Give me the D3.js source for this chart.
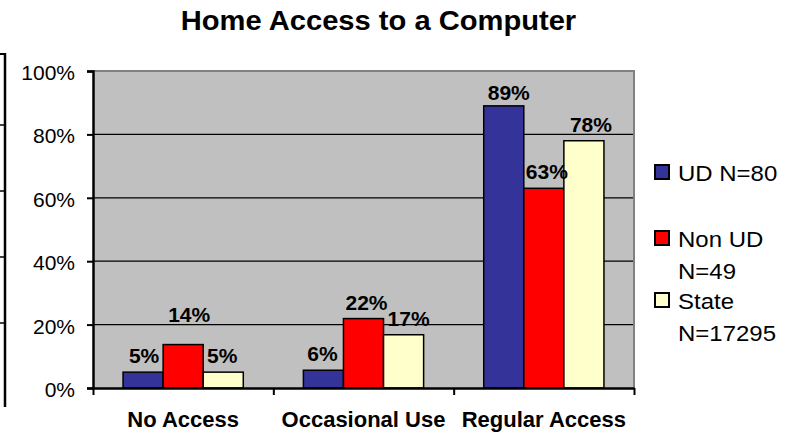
<!DOCTYPE html>
<html>
<head>
<meta charset="utf-8">
<script src="https://cdn.jsdelivr.net/npm/d3@7"></script>
<style>
  html, body { margin: 0; padding: 0; background: #fff; }
  text { font-family: "Liberation Sans", Arial, sans-serif; }
</style>
</head>
<body>
<svg id="here"></svg>
<script>
// chart data
const categories = ["No Access", "Occasional Use", "Regular Access"];
const seriesNames = ["UD N=80", "Non UD N=49", "State N=17295"];
const legendLines = [["UD N=80"], ["Non UD", "N=49"], ["State", "N=17295"]];
const udValues = [5, 5.6, 89];
const nonUdValues = [13.7, 21.9, 63];
const stateValues = [5, 16.8, 78];
const yTicks = [0, 20, 40, 60, 80, 100];
const colors = ["#333399", "#ff0000", "#ffffcc"];

// small nudges for the value labels (like the original export)
const labelDx = [[1, 6, -1], [-1, 3, 5], [5, 3, 7]];
const labelDy = [[0, -14, 0], [0, 0, 0], [3, 0, 0]];

const width = 796, height = 432;
const margin = {top: 71, right: 162, bottom: 45, left: 93};

const svg = d3.select("#here")
  .attr("width", width)
  .attr("height", height);

// stretch text horizontally, the reference is a bit wider than plain Arial
const stretch = (sel, k) => sel.each(function () {
  const w = this.getComputedTextLength();
  d3.select(this).attr("textLength", w * k).attr("lengthAdjust", "spacingAndGlyphs");
});

const x0 = d3.scaleBand()
  .domain(categories)
  .range([margin.left, width - margin.right])
  .paddingInner(1 / 3)
  .paddingOuter(1 / 6);
const x1 = d3.scaleBand()
  .domain(d3.range(seriesNames.length))
  .range([0, x0.bandwidth()]);
const y = d3.scaleLinear()
  .domain([0, 100])
  .range([height - margin.bottom + 1, margin.top]);

const rows = categories.map((c, i) => [udValues[i], nonUdValues[i], stateValues[i]]);

// plot background
svg.append("rect")
  .attr("x", margin.left)
  .attr("y", margin.top)
  .attr("width", width - margin.right - margin.left)
  .attr("height", y(0) - margin.top)
  .attr("fill", "#c0c0c0");

// gridlines
svg.append("g")
  .selectAll("line")
  .data(yTicks.filter(d => d > 0 && d < 100))
  .join("line")
  .attr("x1", margin.left)
  .attr("x2", width - margin.right)
  .attr("y1", d => y(d))
  .attr("y2", d => y(d))
  .attr("stroke", "#000")
  .attr("stroke-width", 1.2);

// top and right border
svg.append("path")
  .attr("d", `M${margin.left},${y(100)}H${width - margin.right}V${y(0)}`)
  .attr("fill", "none")
  .attr("stroke", "#808080")
  .attr("stroke-width", 2);

// bars
const groups = svg.append("g")
  .selectAll("g")
  .data(rows)
  .join("g")
  .attr("transform", (d, i) => `translate(${x0(categories[i])},0)`);

groups.selectAll("rect")
  .data(d => d)
  .join("rect")
  .attr("x", (d, j) => x1(j))
  .attr("y", d => y(d))
  .attr("width", x1.bandwidth())
  .attr("height", d => y(0) - y(d))
  .attr("fill", (d, j) => colors[j])
  .attr("stroke", "#000")
  .attr("stroke-width", 1.5);

// value labels
groups.each(function (row, i) {
  d3.select(this).selectAll("text")
    .data(row)
    .join("text")
    .attr("x", (d, j) => x1(j) + x1.bandwidth() / 2 + labelDx[i][j])
    .attr("y", (d, j) => y(d) - 9 + labelDy[i][j])
    .attr("text-anchor", "middle")
    .attr("font-size", 21)
    .attr("font-weight", "bold")
    .attr("fill", "#000")
    .text(d => Math.round(d) + "%");
});

// y axis
const yAxis = svg.append("g")
  .attr("transform", `translate(${margin.left},0)`)
  .call(d3.axisLeft(y).tickValues(yTicks).tickSize(6).tickFormat(d => d + "%"));
yAxis.select(".domain").attr("stroke-width", 2.5);
yAxis.selectAll(".tick line").attr("stroke-width", 2);
yAxis.selectAll(".tick text")
  .attr("x", -18)
  .attr("dy", "0.4em")
  .attr("font-size", 21)
  .attr("font-family", "Liberation Sans, Arial, sans-serif")
  .attr("fill", "#000");

// x axis
const xEdges = d3.range(categories.length + 1);
const xEdge = d3.scaleLinear().domain([0, categories.length]).range([margin.left, width - margin.right]);
const xAxis = svg.append("g")
  .attr("transform", `translate(0,${y(0)})`)
  .call(d3.axisBottom(xEdge).tickValues(xEdges).tickSize(7).tickSizeOuter(0).tickFormat(""));
xAxis.select(".domain").attr("stroke-width", 2.5);
xAxis.selectAll(".tick line").attr("stroke-width", 2);

svg.append("g")
  .selectAll("text")
  .data(categories)
  .join("text")
  .attr("x", d => x0(d) + x0.bandwidth() / 2)
  .attr("y", height - 5)
  .attr("text-anchor", "middle")
  .attr("font-size", 22)
  .attr("font-weight", "bold")
  .text(d => d);

// title
svg.append("text")
  .attr("x", 378.5)
  .attr("y", 30)
  .attr("text-anchor", "middle")
  .attr("font-size", 28)
  .attr("font-weight", "bold")
  .text("Home Access to a Computer")
  .call(stretch, 1.04);

// legend
const legendTop = [165, 231, 293];
const legend = svg.append("g")
  .selectAll("g")
  .data(seriesNames)
  .join("g")
  .attr("transform", (d, i) => `translate(655,${legendTop[i]})`);
legend.append("rect")
  .attr("width", 14)
  .attr("height", 14)
  .attr("fill", (d, i) => colors[i])
  .attr("stroke", "#000")
  .attr("stroke-width", 2);
legend.each(function (d, i) {
  d3.select(this).selectAll("text")
    .data(legendLines[i])
    .join("text")
    .attr("x", 23)
    .attr("y", (t, k) => 15.5 + k * 32)
    .attr("font-size", 22)
    .attr("fill", "#000")
    .text(t => t)
    .call(stretch, 1.09);
});

// edge of the neighbouring chart, cut off on the left
const yEdge = d3.scaleLinear().domain([0, 5]).range([389, 59]);
const edge = svg.append("g").attr("transform", "translate(5,0)");
edge.append("line")
  .attr("y1", 53).attr("y2", 407)
  .attr("stroke", "#000").attr("stroke-width", 2.5);
edge.selectAll(".t")
  .data([1, 2, 3, 4])
  .join("line")
  .attr("x1", -6).attr("x2", 0)
  .attr("y1", d => yEdge(d)).attr("y2", d => yEdge(d))
  .attr("stroke", "#000").attr("stroke-width", 1.5);
edge.append("line")
  .attr("x1", -6).attr("x2", 0).attr("y1", 54).attr("y2", 54)
  .attr("stroke", "#000").attr("stroke-width", 2);
</script>
</body>
</html>
